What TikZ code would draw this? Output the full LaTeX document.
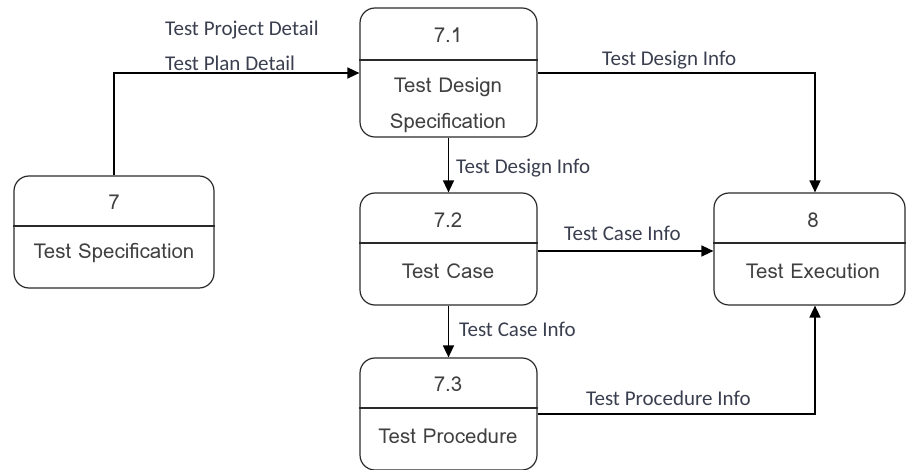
\documentclass[tikz,border=0pt]{standalone}
\usepackage{fontspec}
\setmainfont{Carlito}
\newfontfamily\boxfont{Loma}
\usetikzlibrary{arrows.meta}
\definecolor{lbl}{HTML}{3A3F4F}
\definecolor{edge}{HTML}{2A2A2A}
\tikzset{
  x=1pt, y=-1pt,
  procbox/.style={draw=edge, line width=1.2pt, rounded corners=15pt, inner sep=0pt},
  boxtext/.style={font=\boxfont\fontsize{20.5}{24}\selectfont, text=black!75, inner sep=0pt},
  flowlbl/.style={font=\fontsize{21}{24}\selectfont, text=lbl, inner sep=0pt, anchor=west},
  flow/.style={draw=black, line width=1.5pt, -{Triangle[length=12pt,width=11pt]}},
  divider/.style={draw=edge, line width=1.2pt}
}
\begin{document}
\begin{tikzpicture}
\useasboundingbox (0,0) rectangle (906,470);
% boxes
\node[procbox, minimum width=200pt, minimum height=112pt] (p7) at (114,232) {};
\node[procbox, minimum width=177pt, minimum height=129pt] (p71) at (448.5,72.5) {};
\node[procbox, minimum width=177pt, minimum height=112pt] (p72) at (448.5,249) {};
\node[procbox, minimum width=177pt, minimum height=112pt] (p73) at (448.5,414) {};
\node[procbox, minimum width=191pt, minimum height=112pt] (p8) at (809.5,249) {};
% dividers
\coordinate (d7) at (114,226);
\coordinate (d71) at (448,60);
\coordinate (d72) at (448,243);
\coordinate (d73) at (448,408);
\coordinate (d8) at (810,243);
\draw[divider] (p7.west |- d7) -- (p7.east |- d7);
\draw[divider] (p71.west |- d71) -- (p71.east |- d71);
\draw[divider] (p72.west |- d72) -- (p72.east |- d72);
\draw[divider] (p73.west |- d73) -- (p73.east |- d73);
\draw[divider] (p8.west |- d8) -- (p8.east |- d8);
% texts
\node[boxtext] (t7a) at (114,202) {7};
\node[boxtext] (t7b) at (114,253) {Test Specification};
\node[boxtext] (t71a) at (448,35) {7.1};
\node[boxtext] (t71b) at (448,87) {Test Design};
\node[boxtext] (t71c) at (448,123) {Specification};
\node[boxtext] (t72a) at (448,220) {7.2};
\node[boxtext] (t72b) at (448,271) {Test Case};
\node[boxtext] (t73a) at (448,384) {7.3};
\node[boxtext] (t73b) at (448,436) {Test Procedure};
\node[boxtext] (t8a) at (813,220) {8};
\node[boxtext] (t8b) at (813,271) {Test Execution};
% connectors
\coordinate (c1) at (114,73);
\coordinate (c2) at (815,73);
\coordinate (c3) at (815,414);
\draw[flow] (p7.north -| c1) -- (c1) -- (p71.west |- c1);
\draw[flow] (p71.east |- c2) -- (c2) -- (p8.north -| c2);
\draw[flow] (p71.south) -- (p72.north);
\draw[flow] (p72.east |- 0,251) -- (p8.west |- 0,251);
\draw[flow] (p72.south) -- (p73.north);
\draw[flow] (p73.east |- c3) -- (c3) -- (p8.south -| c3);
% labels
\node[flowlbl] (l1) at (165,30) {Test Project Detail};
\node[flowlbl] (l2) at (165,63) {Test Plan Detail};
\node[flowlbl] (l3) at (602,60) {Test Design Info};
\node[flowlbl] (l4) at (456,168) {Test Design Info};
\node[flowlbl] (l5) at (564,233) {Test Case Info};
\node[flowlbl] (l6) at (459,329) {Test Case Info};
\node[flowlbl] (l7) at (586,398) {Test Procedure Info};
\end{tikzpicture}
\end{document}
